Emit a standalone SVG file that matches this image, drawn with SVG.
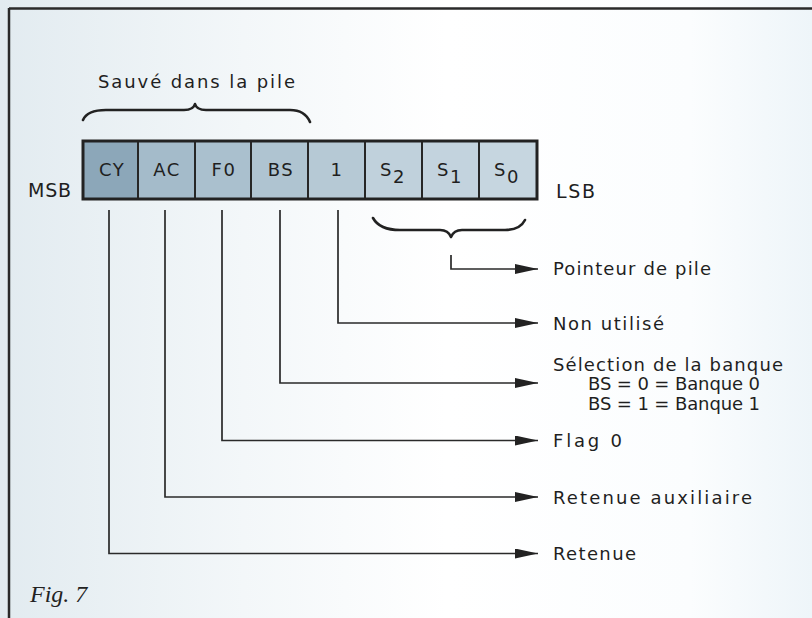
<svg xmlns="http://www.w3.org/2000/svg" width="812" height="618" viewBox="0 0 812 618">
<defs>
<linearGradient id="bg" x1="0" y1="0" x2="1" y2="0">
<stop offset="0" stop-color="#e2ebf0"/>
<stop offset="0.3" stop-color="#f3f7f9"/>
<stop offset="0.55" stop-color="#ffffff"/>
<stop offset="0.85" stop-color="#fbfdfe"/>
<stop offset="1" stop-color="#eef5f9"/>
</linearGradient>
<marker id="arr" markerUnits="userSpaceOnUse" markerWidth="24" markerHeight="11" refX="23" refY="5" orient="auto">
<path d="M0,0 L23,5 L0,10 Z" fill="#222"/>
</marker>
<style>
.lbl{font-family:"DejaVu Sans","Liberation Sans",sans-serif;font-size:18px;fill:#1f1f1f}
.cell{stroke:#262626;stroke-width:2}
.ctext{font-family:"DejaVu Sans","Liberation Sans",sans-serif;font-size:18px;fill:#1f1f1f;letter-spacing:1.5px;text-anchor:middle}
.conn{fill:none;stroke:#2a2a2a;stroke-width:1.7;marker-end:url(#arr)}
.brace{fill:none;stroke:#222;stroke-width:2.6;stroke-linecap:round;stroke-linejoin:round}
</style>
</defs>
<rect x="0" y="0" width="812" height="618" fill="url(#bg)"/>
<g id="frame">
<line x1="9" y1="8.5" x2="812" y2="8.5" stroke="#2a2a2a" stroke-width="2.5"/>
<line x1="9" y1="8" x2="9" y2="618" stroke="#2a2a2a" stroke-width="2.5"/>
</g>
<g id="register">
<g id="cell-CY"><rect class="cell" x="83" y="141" width="55" height="58" fill="#8ca7b9"/><text class="ctext" x="112" y="176">CY</text></g>
<g id="cell-AC"><rect class="cell" x="138" y="141" width="57" height="58" fill="#a4bbca"/><text class="ctext" x="167" y="176">AC</text></g>
<g id="cell-F0"><rect class="cell" x="195" y="141" width="56" height="58" fill="#aac0ce"/><text class="ctext" x="224" y="176">F0</text></g>
<g id="cell-BS"><rect class="cell" x="251" y="141" width="57" height="58" fill="#afc4d1"/><text class="ctext" x="281" y="176">BS</text></g>
<g id="cell-1"><rect class="cell" x="308" y="141" width="57" height="58" fill="#b6c9d5"/><text class="ctext" x="337" y="176">1</text></g>
<g id="cell-S2"><rect class="cell" x="365" y="141" width="57" height="58" fill="#c0d1dc"/><text class="ctext" x="393" y="176">S<tspan dy="7">2</tspan></text></g>
<g id="cell-S1"><rect class="cell" x="422" y="141" width="57" height="58" fill="#c3d3de"/><text class="ctext" x="450" y="176">S<tspan dy="7">1</tspan></text></g>
<g id="cell-S0"><rect class="cell" x="479" y="141" width="58" height="58" fill="#c6d6e0"/><text class="ctext" x="507" y="176">S<tspan dy="7">0</tspan></text></g>
<rect x="83" y="141" width="454" height="58" fill="none" stroke="#222" stroke-width="3"/>
</g>
<g id="msb"><text class="lbl" x="28" y="197" style="font-size:19px" textLength="43" lengthAdjust="spacing">MSB</text></g>
<g id="lsb"><text class="lbl" x="556" y="198" style="font-size:19px" textLength="39" lengthAdjust="spacing">LSB</text></g>
<g id="saved">
<text class="lbl" x="98" y="88" textLength="197" lengthAdjust="spacing">Sauvé dans la pile</text>
<path class="brace" d="M83,120 C86,113 94,110 106,110 L184,110 C191,110 194,108 195,104 C196,108 199,110 206,110 L290,110 C300,110 307,115 310,122"/>
</g>
<g id="stack-brace">
<path class="brace" d="M373,218 C378,227 388,230 400,230 L440,230 C446,230 449,232 451,237 C453,232 456,230 462,230 L505,230 C516,230 522,226 525,220"/>
</g>
<g id="connectors">
<path class="conn" d="M451,255 V269 H538"/>
<path class="conn" d="M338,210 V323 H538"/>
<path class="conn" d="M280,210 V383 H538"/>
<path class="conn" d="M222,210 V440.5 H538"/>
<path class="conn" d="M165,210 V497 H538"/>
<path class="conn" d="M109,210 V553.5 H538"/>
</g>
<g id="label-pointeur"><text class="lbl" x="553" y="275" textLength="158" lengthAdjust="spacing">Pointeur de pile</text></g>
<g id="label-non"><text class="lbl" x="553" y="330" textLength="111" lengthAdjust="spacing">Non utilisé</text></g>
<g id="label-selection">
<text class="lbl" x="553" y="371" textLength="230" lengthAdjust="spacing">Sélection de la banque</text>
<text class="lbl" x="588" y="390" textLength="172" lengthAdjust="spacing">BS = 0 = Banque 0</text>
<text class="lbl" x="588" y="409.5" textLength="172" lengthAdjust="spacing">BS = 1 = Banque 1</text>
</g>
<g id="label-flag"><text class="lbl" x="553" y="447" textLength="69" lengthAdjust="spacing">Flag 0</text></g>
<g id="label-aux"><text class="lbl" x="553" y="504" textLength="199" lengthAdjust="spacing">Retenue auxiliaire</text></g>
<g id="label-retenue"><text class="lbl" x="553" y="560" textLength="83" lengthAdjust="spacing">Retenue</text></g>
<g id="caption"><text x="30" y="602" style="font-family:'Liberation Serif','Times New Roman',serif;font-style:italic;font-size:24px;fill:#222">Fig. 7</text></g>
</svg>
